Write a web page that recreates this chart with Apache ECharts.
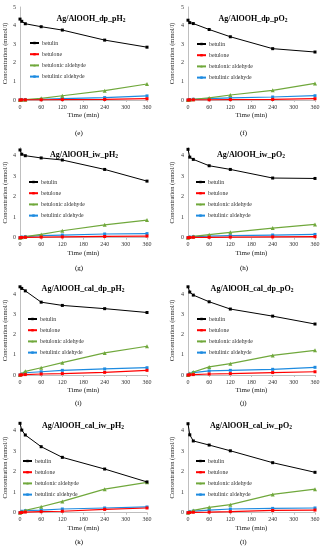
<!DOCTYPE html>
<html><head><meta charset="utf-8">
<script src="https://cdn.jsdelivr.net/npm/echarts@6/dist/echarts.min.js"></script>
<style>html,body{margin:0;padding:0;background:#fff}#c{width:323px;height:550px}</style>
</head><body><div id="c"></div>
<script>
const times = [0, 5, 15, 60, 120, 240, 360];
const xTicks = [0, 60, 120, 180, 240, 300, 360];
const seriesNames = ['betulin', 'betulone', 'betulonic aldehyde', 'betulinic aldehyde'];
const panelTitles = ['Ag/AlOOH_dp_pH', 'Ag/AlOOH_dp_pO', 'Ag/AlOOH_iw_pH', 'Ag/AlOOH_iw_pO',
  'Ag/AlOOH_cal_dp_pH', 'Ag/AlOOH_cal_dp_pO', 'Ag/AlOOH_cal_iw_pH', 'Ag/AlOOH_cal_iw_pO'];
const panelLabels = ['(e)', '(f)', '(g)', '(h)', '(i)', '(j)', '(k)', '(l)'];
const yMax = [5, 5, 4.4, 4.4, 4.4, 4.4, 4.4, 4.4];

const e_betulin = [4.35, 4.23, 4.10, 3.94, 3.76, 3.22, 2.84];
const e_betulone = [0, 0.01, 0.01, 0.01, 0.02, 0.03, 0.07];
const e_betulonic = [0, 0.01, 0.02, 0.09, 0.23, 0.50, 0.86];
const e_betulinic = [0, 0.01, 0.02, 0.04, 0.07, 0.13, 0.22];

const f_betulin = [4.29, 4.16, 4.11, 3.79, 3.40, 2.76, 2.58];
const f_betulone = [0, 0.01, 0.01, 0.01, 0.02, 0.03, 0.07];
const f_betulonic = [0, 0.02, 0.04, 0.11, 0.27, 0.52, 0.89];
const f_betulinic = [0, 0.02, 0.04, 0.07, 0.11, 0.16, 0.23];

const g_betulin = [4.28, 4.07, 4.00, 3.89, 3.79, 3.33, 2.76];
const g_betulone = [0, 0.01, 0.02, 0.03, 0.04, 0.06, 0.08];
const g_betulonic = [0, 0.02, 0.05, 0.16, 0.34, 0.63, 0.86];
const g_betulinic = [0, 0.03, 0.05, 0.10, 0.13, 0.18, 0.20];

const h_betulin = [4.31, 3.93, 3.82, 3.51, 3.33, 2.91, 2.89];
const h_betulone = [0, 0.01, 0.02, 0.02, 0.03, 0.04, 0.05];
const h_betulonic = [0, 0.03, 0.06, 0.15, 0.26, 0.47, 0.65];
const h_betulinic = [0, 0.03, 0.05, 0.08, 0.10, 0.13, 0.16];

const i_betulin = [4.36, 4.28, 4.16, 3.60, 3.44, 3.28, 3.09];
const i_betulone = [0, 0.01, 0.02, 0.05, 0.07, 0.13, 0.23];
const i_betulonic = [0, 0.05, 0.18, 0.36, 0.61, 1.09, 1.42];
const i_betulinic = [0, 0.04, 0.11, 0.16, 0.23, 0.30, 0.36];

const j_betulin = [4.36, 4.10, 3.95, 3.62, 3.26, 2.91, 2.52];
const j_betulone = [0, 0.01, 0.02, 0.05, 0.07, 0.12, 0.16];
const j_betulonic = [0, 0.07, 0.15, 0.40, 0.56, 0.97, 1.22];
const j_betulinic = [0, 0.05, 0.12, 0.20, 0.23, 0.28, 0.38];

const k_betulin = [4.36, 4.03, 3.79, 3.22, 2.70, 2.13, 1.50];
const k_betulone = [0, 0.01, 0.03, 0.05, 0.07, 0.16, 0.23];
const k_betulonic = [0, 0.05, 0.11, 0.29, 0.55, 1.15, 1.48];
const k_betulinic = [0, 0.07, 0.10, 0.13, 0.18, 0.23, 0.28];

const l_betulin = [4.34, 3.80, 3.50, 3.30, 3.02, 2.44, 1.97];
const l_betulone = [0, 0.01, 0.02, 0.03, 0.05, 0.11, 0.13];
const l_betulonic = [0, 0.05, 0.11, 0.26, 0.39, 0.89, 1.15];
const l_betulinic = [0, 0.05, 0.08, 0.13, 0.18, 0.21, 0.23];

const panelData = [
  [e_betulin, e_betulone, e_betulonic, e_betulinic],
  [f_betulin, f_betulone, f_betulonic, f_betulinic],
  [g_betulin, g_betulone, g_betulonic, g_betulinic],
  [h_betulin, h_betulone, h_betulonic, h_betulinic],
  [i_betulin, i_betulone, i_betulonic, i_betulinic],
  [j_betulin, j_betulone, j_betulonic, j_betulinic],
  [k_betulin, k_betulone, k_betulonic, k_betulinic],
  [l_betulin, l_betulone, l_betulonic, l_betulinic]
];

const colors = ['#000000', '#FF0000', '#70A83C', '#1E8BE0'];
const symbols = ['rect', 'rect', 'triangle', 'rect'];
const FONT = '"Liberation Serif", "DejaVu Serif", serif';

// layout
const colLeft = [20, 188];
const colWidth = [127, 127];
const rowTop = [7, 147.5, 286, 422.5];
const rowBottom = [100, 237.7, 375, 512.7];
const titleX = [86, 248, 79, 246, 78, 247, 78, 246];
const titleY = [14, 14, 150, 150, 284, 284, 421, 421];
const labelY = [135, 135, 270, 270, 405, 405, 544, 544];
const labelX = [80, 245, 80, 245, 80, 245, 80, 245];
const legendLeft = [29, 196, 28, 195, 27, 196, 22, 195];
const legendTop = [40, 41, 179, 179, 316, 316, 458, 458];

const grids = [], xAxes = [], yAxes = [], series = [], titles = [], legends = [], graphics = [];
for (let p = 0; p < 8; p++) {
  const col = p % 2, row = Math.floor(p / 2);
  grids.push({ left: colLeft[col], width: colWidth[col], top: rowTop[row], height: rowBottom[row] - rowTop[row] });
  xAxes.push({
    gridIndex: p, type: 'value', min: 0, max: 360, interval: 60,
    name: 'Time (min)', nameLocation: 'middle', nameGap: 12,
    nameTextStyle: { fontFamily: FONT, fontSize: 7, color: '#222' },
    axisLine: { show: true, lineStyle: { color: '#BFBFBF', width: 1 } },
    axisTick: { show: true, length: 2, lineStyle: { color: '#BFBFBF' } },
    axisLabel: { fontFamily: FONT, fontSize: 6, color: '#333', margin: 4 },
    splitLine: { show: false }
  });
  yAxes.push({
    gridIndex: p, type: 'value', min: 0, max: yMax[p], interval: 1,
    name: 'Concentration (mmol/l)', nameLocation: 'middle', nameGap: col === 0 ? 11 : 12,
    nameTextStyle: { fontFamily: FONT, fontSize: 6.5, color: '#222' },
    axisLine: { show: true, lineStyle: { color: '#BFBFBF', width: 1 } },
    axisTick: { show: false },
    axisLabel: { fontFamily: FONT, fontSize: 6, color: '#333', margin: 4,
      formatter: v => Number.isInteger(v) ? String(v) : '' },
    splitLine: { show: false }
  });
  for (let s = 0; s < 4; s++) {
    series.push({
      type: 'line', name: seriesNames[s], xAxisIndex: p, yAxisIndex: p,
      data: times.map((t, k) => [t, panelData[p][s][k]]),
      symbol: symbols[s], symbolSize: s === 2 ? 4 : 3, showSymbol: true,
      itemStyle: { color: colors[s] },
      lineStyle: { color: colors[s], width: s === 0 ? 1 : 1.2 },
      z: 10 - s, animation: false
    });
  }
  titles.push({
    text: '{a|' + panelTitles[p] + '}{s|2}',
    left: titleX[p], top: titleY[p] - 5, textAlign: 'center',
    textStyle: {
      rich: {
        a: { fontFamily: FONT, fontSize: 8, fontWeight: 'bold', color: '#000' },
        s: { fontFamily: FONT, fontSize: 5.5, fontWeight: 'bold', color: '#000', padding: [4, 0, 0, 0] }
      }
    }
  });
  legends.push({
    data: seriesNames, orient: 'vertical', left: legendLeft[p], top: legendTop[p],
    itemWidth: 9, itemHeight: 3, itemGap: 5.2, padding: 0,
    textStyle: { fontFamily: FONT, fontSize: 5.8, color: '#333', padding: [0, 0, 0, -2] },
    selectedMode: false
  });
  graphics.push({
    type: 'text', left: labelX[p] - 5, top: labelY[p] - 5,
    style: { text: panelLabels[p], font: '7px ' + FONT, fill: '#000' }
  });
}

const chart = echarts.init(document.getElementById('c'), null, { renderer: 'canvas' });
chart.setOption({
  animation: false,
  backgroundColor: '#fff',
  title: titles, legend: legends, grid: grids, xAxis: xAxes, yAxis: yAxes, series: series, graphic: graphics
});
</script></body></html>
